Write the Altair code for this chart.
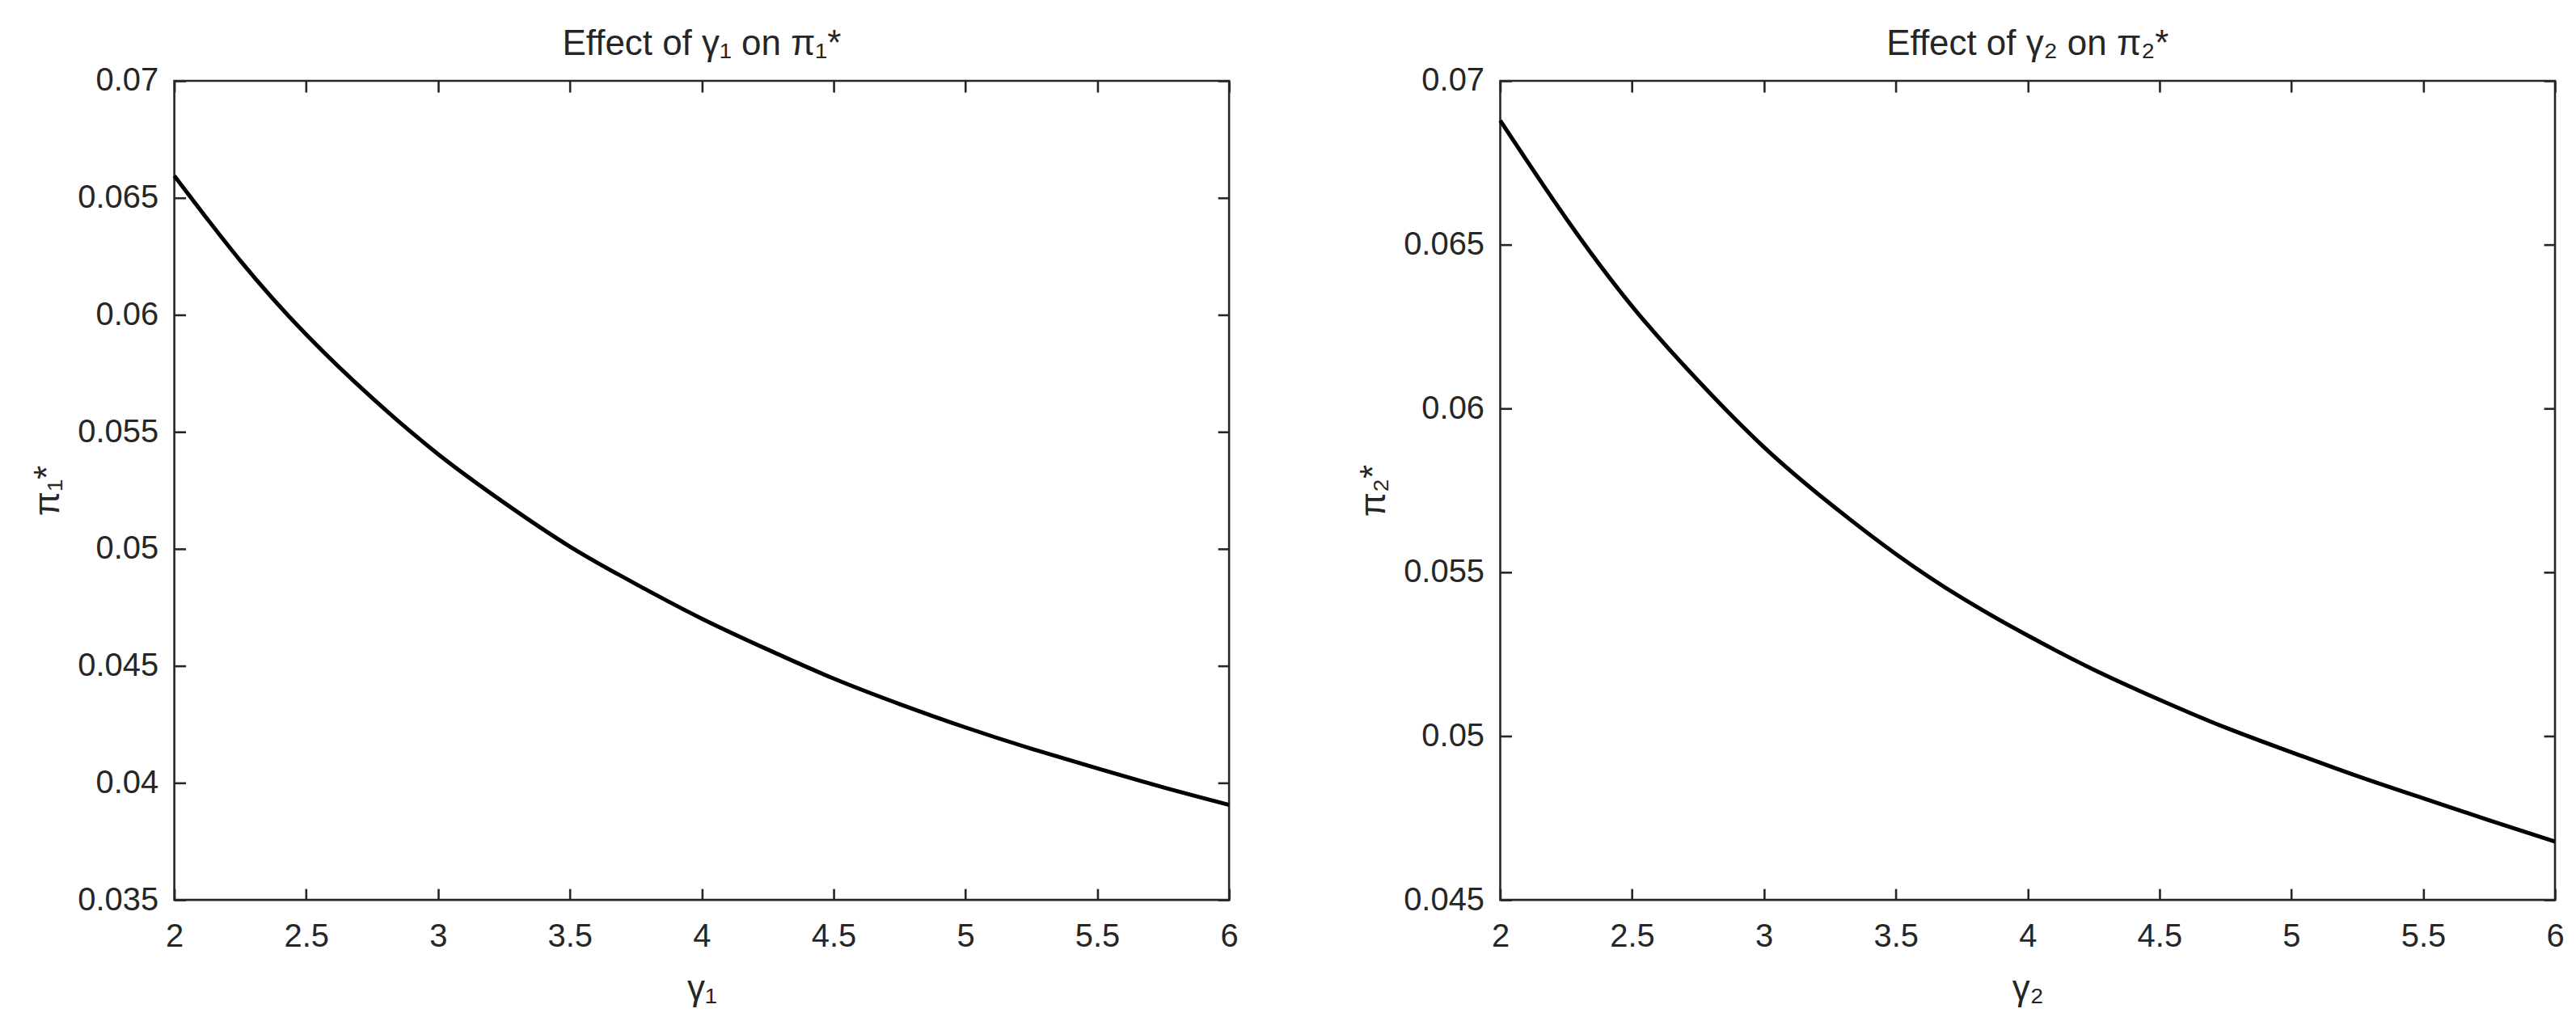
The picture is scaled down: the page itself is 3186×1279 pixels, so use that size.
import altair as alt
import pandas as pd

# ---- data ----
gamma = [2.0, 2.25, 2.5, 2.75, 3.0, 3.25, 3.5, 3.75, 4.0, 4.25, 4.5, 4.75, 5.0, 5.25, 5.5, 5.75, 6.0]
pi1 = [0.06594, 0.06232, 0.05916, 0.05645, 0.05405, 0.05198, 0.05010, 0.04850, 0.04702,
       0.04570, 0.04446, 0.04337, 0.04237, 0.04146, 0.04062, 0.03981, 0.03906]
pi2 = [0.06879, 0.06580, 0.06312, 0.06085, 0.05882, 0.05710, 0.05556, 0.05422, 0.05307,
       0.05203, 0.05111, 0.05026, 0.04951, 0.04878, 0.04810, 0.04743, 0.04678]

x_ticks = [2, 2.5, 3, 3.5, 4, 4.5, 5, 5.5, 6]
y1_ticks = [0.035, 0.04, 0.045, 0.05, 0.055, 0.06, 0.065, 0.07]
y2_ticks = [0.045, 0.05, 0.055, 0.06, 0.065, 0.07]

titles = ["Effect of γ₁ on π₁*", "Effect of γ₂ on π₂*"]
x_titles = ["γ₁", "γ₂"]
y_titles = ["π₁*", "π₂*"]

FONT = "Liberation Sans"
TXT = "#262626"
W, H = 1307, 1015
TICK = 14


def panel(values, ytitle, xtitle, ttl, ydomain, yticks):
    df = pd.DataFrame({"g": gamma, "p": values})
    base = alt.Chart(df)
    xs = alt.Scale(domain=[2, 6], nice=False, zero=False)
    ys = alt.Scale(domain=ydomain, nice=False, zero=False)
    common = dict(domain=False, grid=False, ticks=True, tickSize=TICK, offset=-TICK,
                  tickWidth=2.6, tickColor=TXT, labelFlush=False, labelOverlap=False,
                  labelBound=False)
    main = base.mark_line(color="black", strokeWidth=5, interpolate="natural").encode(
        x=alt.X("g:Q", scale=xs,
                axis=alt.Axis(orient="bottom", values=x_ticks, format="~f", title=xtitle,
                              labelPadding=26, labelFontSize=40, labelFont=FONT, labelColor=TXT,
                              titleFontSize=44, titleFont=FONT, titleColor=TXT,
                              titleFontWeight="normal", titleY=138, titleBaseline="alphabetic",
                              titleAlign="center", titleX=W / 2, **common)),
        y=alt.Y("p:Q", scale=ys,
                axis=alt.Axis(orient="left", values=yticks, format="~f", title=ytitle,
                              labelPadding=20, labelFontSize=40, labelFont=FONT, labelColor=TXT,
                              titleFontSize=44, titleFont=FONT, titleColor=TXT,
                              titleFontWeight="normal", titleAngle=-90, titleX=-170,
                              titleY=H / 2, titleBaseline="middle", titleAlign="center",
                              **common)),
    )
    mirror = base.mark_line(strokeOpacity=0).encode(
        x=alt.X("g:Q", scale=xs,
                axis=alt.Axis(orient="top", values=x_ticks, labels=False, title=None, **common)),
        y=alt.Y("p:Q", scale=ys,
                axis=alt.Axis(orient="right", values=yticks, labels=False, title=None, **common)),
    )
    return alt.layer(main, mirror).properties(
        width=W, height=H,
        title=alt.TitleParams(ttl, fontSize=44, font=FONT, color=TXT, fontWeight="normal",
                              offset=-32, baseline="alphabetic", anchor="middle"),
    )


left = panel(pi1, y_titles[0], x_titles[0], titles[0], [0.035, 0.07], y1_ticks)
right = panel(pi2, y_titles[1], x_titles[1], titles[1], [0.045, 0.07], y2_ticks)

chart = alt.hconcat(left, right, spacing=143).properties(
    padding={"left": 28, "top": 22, "right": 5, "bottom": 5},
    background="white",
).configure_view(stroke=TXT, strokeWidth=2.6)

chart.save("out.html", embed_options={"renderer": "svg", "actions": False})
